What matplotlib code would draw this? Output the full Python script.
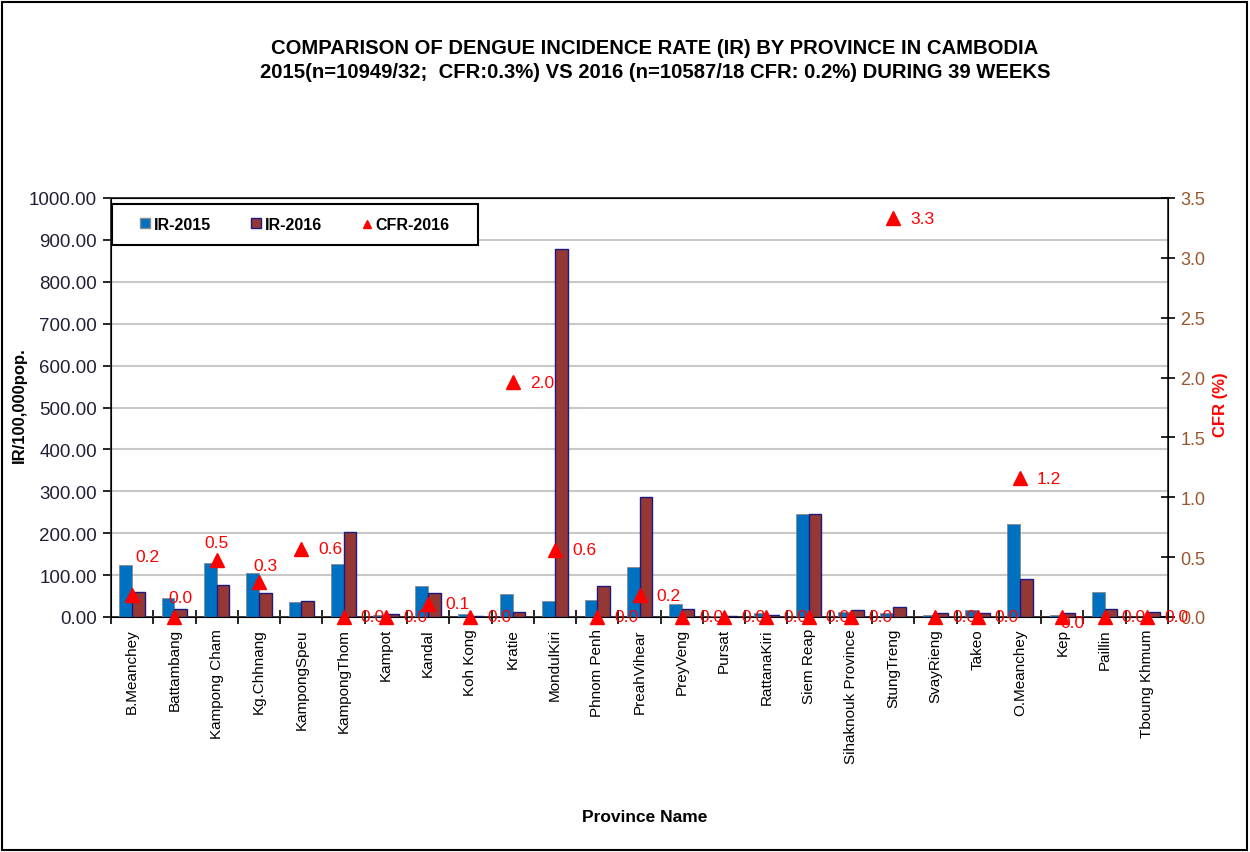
import numpy as np
import matplotlib.pyplot as plt
from matplotlib.patches import Rectangle
from matplotlib.lines import Line2D

plt.rcParams['font.family'] = ['Liberation Sans', 'DejaVu Sans']

provinces = ['B.Meanchey', 'Battambang', 'Kampong Cham', 'Kg.Chhnang', 'KampongSpeu',
             'KampongThom', 'Kampot', 'Kandal', 'Koh Kong', 'Kratie', 'MondulKiri',
             'Phnom Penh', 'PreahVihear', 'PreyVeng', 'Pursat', 'RattanaKiri',
             'Siem Reap', 'Sihaknouk Province', 'StungTreng', 'SvayRieng', 'Takeo',
             'O.Meanchey', 'Kep', 'Paillin', 'Tboung Khmum']
ir_2015 = [124, 45, 130, 104, 35, 126, 5, 74, 6, 54, 37, 40, 120, 30, 3, 10,
           246, 12, 10, 5, 16, 223, 5, 60, 0]
ir_2016 = [60, 20, 77, 57, 37, 203, 6, 57, 3, 13, 878, 74, 286, 20, 2, 4,
           246, 16, 24, 9, 10, 90, 9, 20, 13]
cfr_2016 = [0.18, 0.0, 0.48, 0.29, 0.57, 0.0, 0.0, 0.11, 0.0, 1.96, 0.56, 0.0,
            0.18, 0.0, 0.0, 0.0, 0.0, 0.0, 3.33, 0.0, 0.0, 1.16, 0.0, 0.0, 0.0]

# label offsets in points (dx, dy); default is to the right
lbl_off = {0: (11, 28), 1: (4, 14), 2: (0, 12), 3: (5, 12), 22: (7, -4)}

fig = plt.figure(figsize=(12.5, 8.53), dpi=100)
ax = fig.add_axes([111/1250, 1-618/853, 1057/1250, 419/853])
x = np.arange(len(provinces))
w = 0.3

ax.bar(x - w/2, ir_2015, w, color='#0070C0', edgecolor='#8a8a8a', linewidth=0.6,
       zorder=3)
ax.bar(x + w/2, ir_2016, w, color='#953735', edgecolor='#1a1a80', linewidth=1.0,
       zorder=3)
ax.set_xlim(-0.5, len(provinces) - 0.5)
ax.set_ylim(0, 1000)
ax.set_yticks(np.arange(0, 1001, 100))
ax.set_yticklabels(['%.2f' % v for v in np.arange(0, 1001, 100)])
ax.yaxis.grid(True, color='#c8c8c8', linewidth=1.5, zorder=0)
ax.set_axisbelow(True)
ax.tick_params(axis='y', direction='out', length=6, width=1.2, labelsize=13.5,
               labelcolor='#202035', pad=4)
ax.set_xticks(x)
ax.set_xticklabels(provinces, rotation=90, fontsize=11)
ax.tick_params(axis='x', length=0, pad=8)
ax.set_xticks(np.arange(-0.5, len(provinces)), minor=True)
ax.tick_params(axis='x', which='minor', direction='inout', length=10, width=1.2)
for s in ax.spines.values():
    s.set_linewidth(1.3)
    s.set_color('#303030')

ax2 = ax.twinx()
ax2.set_ylim(0, 3.5)
ax2.set_yticks(np.arange(0, 3.51, 0.5))
ax2.set_yticklabels(['%.1f' % v for v in np.arange(0, 3.51, 0.5)])
ax2.tick_params(axis='y', direction='inout', length=10, width=1.2, labelsize=13,
                labelcolor='#98582e', pad=4)
ax2.plot(x, cfr_2016, linestyle='none', marker='^', color='red', markersize=10,
         clip_on=False, zorder=5)
for i, v in enumerate(cfr_2016):
    dx, dy = lbl_off.get(i, (21, 0))
    ax2.annotate('%.1f' % v, (i, v), xytext=(dx, dy), textcoords='offset points',
                 ha='center', va='center', color='red', fontsize=12.5,
                 annotation_clip=False, zorder=6)

# legend box drawn by hand, entries centred inside it
ax2.add_patch(Rectangle((0.001, 0.888), 0.346, 0.098, transform=ax2.transAxes,
                        facecolor='white', edgecolor='black', linewidth=1.5,
                        zorder=9, clip_on=False))
handles = [Rectangle((0, 0), 1, 1, facecolor='#0070C0', edgecolor='#8a8a8a'),
           Rectangle((0, 0), 1, 1, facecolor='#953735', edgecolor='#1a1a80'),
           Line2D([], [], linestyle='none', marker='^', color='red', markersize=6)]
leg = ax2.legend(handles, ['IR-2015', 'IR-2016', 'CFR-2016'], ncol=3,
                 loc='center', bbox_to_anchor=(0.174, 0.937), frameon=False,
                 handlelength=0.6, handleheight=0.6, handletextpad=0.25,
                 columnspacing=2.5, prop={'weight': 'bold', 'size': 11.5})
leg.set_zorder(10)

title_kw = dict(ha='center', va='center', fontsize=14.6, fontweight='bold')
fig.text(655/1250, 1-48/853, 'COMPARISON OF DENGUE INCIDENCE RATE (IR) BY PROVINCE IN CAMBODIA',
         **title_kw)
fig.text(655/1250, 1-73/853, '2015(n=10949/32;  CFR:0.3%) VS 2016 (n=10587/18 CFR: 0.2%) DURING 39 WEEKS',
         **title_kw)
fig.text(19/1250, 1-405/853, 'IR/100,000pop.', rotation=90, ha='center', va='center',
         fontsize=12, fontweight='bold')
fig.text(1220/1250, 1-405/853, 'CFR (%)', rotation=90, ha='center', va='center',
         fontsize=12, fontweight='bold', color='red')
fig.text(645/1250, 1-818/853, 'Province Name', ha='center', va='center',
         fontsize=12.5, fontweight='bold')

fig.patches.append(Rectangle((2/1250, 2/853), 1245/1250, 848/853, transform=fig.transFigure,
                             fill=False, edgecolor='black', linewidth=1.5))

fig.savefig('out.png', dpi=100)
